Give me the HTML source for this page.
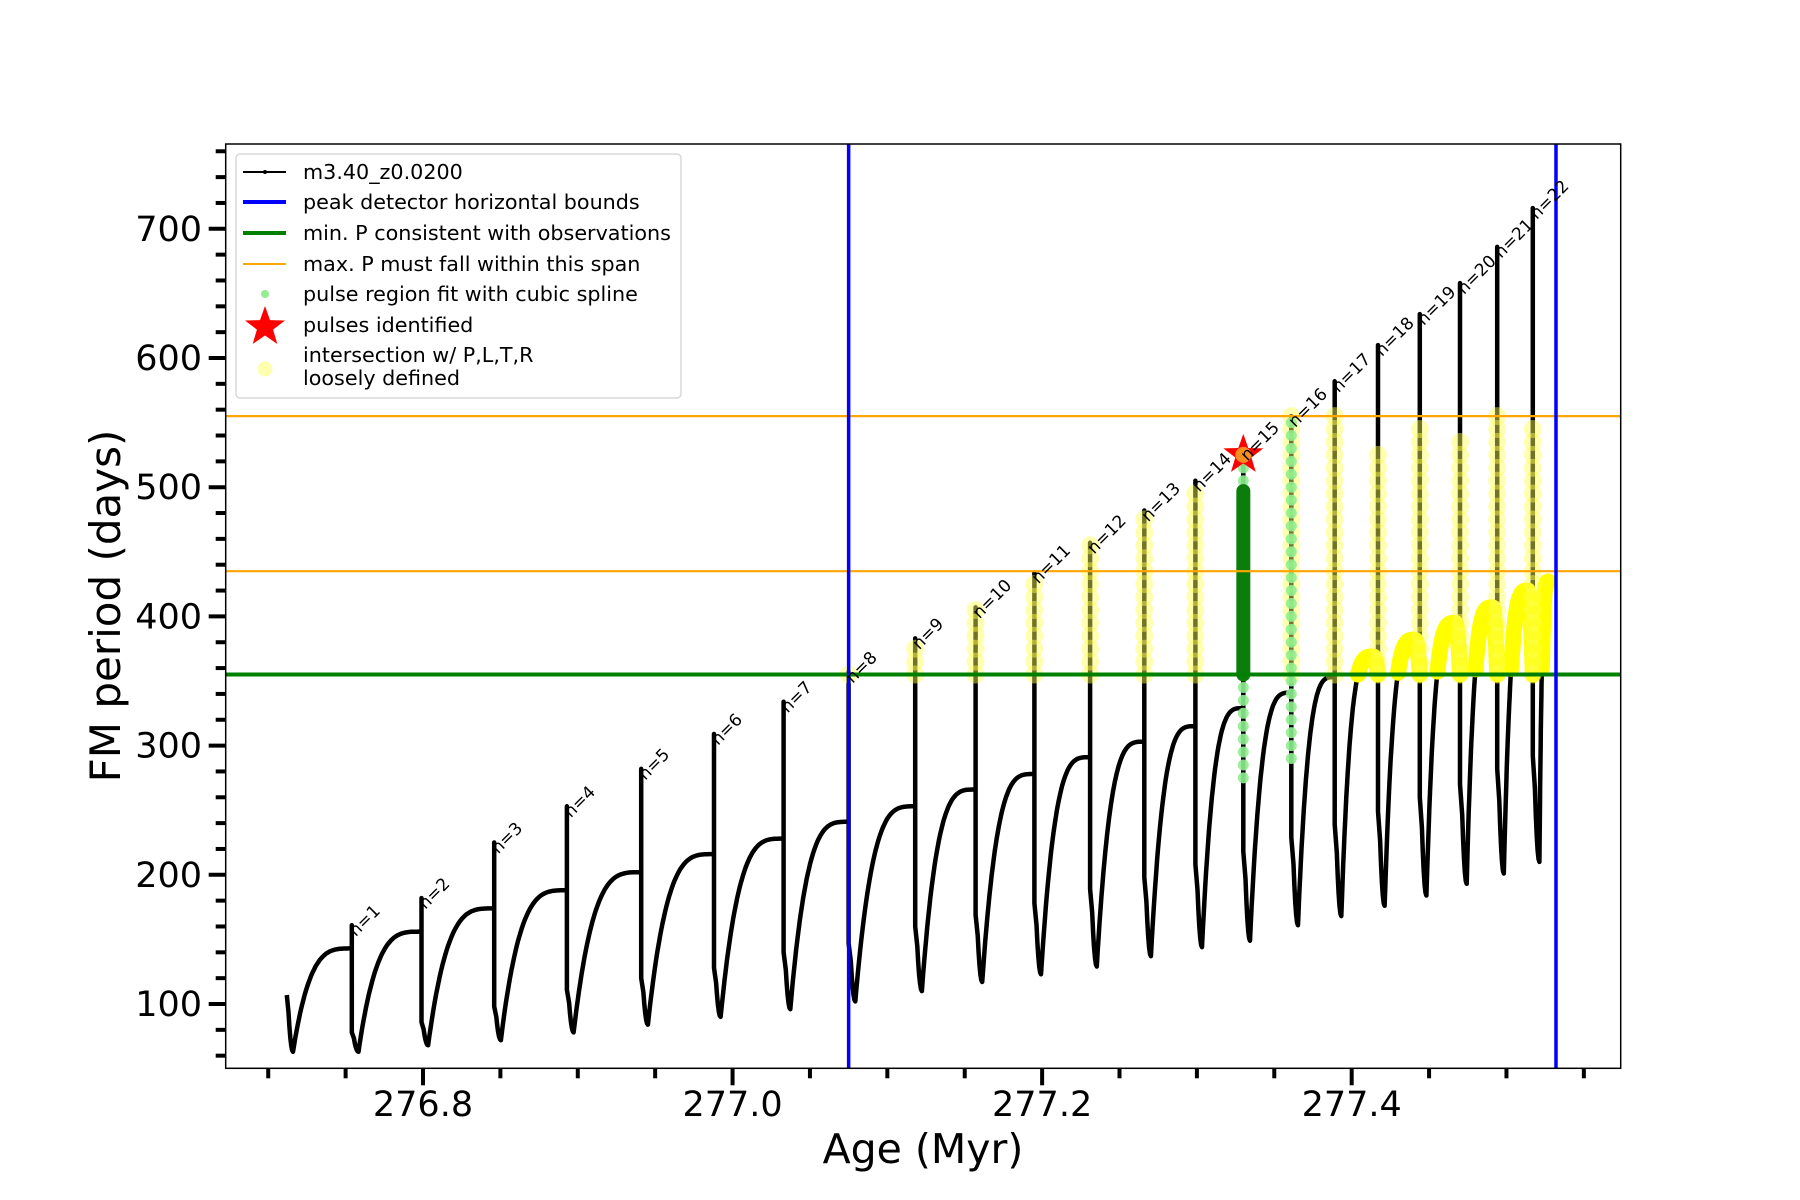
<!DOCTYPE html>
<html><head><meta charset="utf-8">
<style>
html,body{margin:0;padding:0;background:#fff;}
svg{display:block;font-family:"DejaVu Sans","Liberation Sans",sans-serif;}
</style></head>
<body>
<svg id="chart" width="1800" height="1200" viewBox="0 0 1800 1200" xmlns="http://www.w3.org/2000/svg">
<g id="plot"></g>
</svg>
<script>
// ---- data ----
const pulseAges = [276.754,276.799,276.846,276.893,276.941,276.988,277.033,277.075,277.118,277.157,277.195,277.231,277.266,277.299,277.330,277.361,277.389,277.417,277.444,277.470,277.494,277.517];
const preMax    = [143,156,174,188,202,216,228,241,253,266,278,291,303,315,329,341,353,355,355,355,355,355];
const cycleTop  = [143,156,174,188,202,216,228,241,253,266,278,291,303,315,329,341,353,369,382,395,407,420,427];
const spikePeak = [161,182,225,253,282,309,334,357,383,407,434,457,482,505,529,555,582,610,634,658,686,716];
const dipLow    = [78,86,98,111,120,128,140,147,160,169,178,189,198,208,218,229,239,249,260,270,282,292];
const minAfter  = [63,63,68,72,78,84,90,96,102,110,117,123,129,137,144,149,161,168,176,184,193,201,210];
const startAge = 276.712, startP = 107, endAge = 277.527;
const blueBounds = [277.075, 277.532];
const minP = 355;
const maxSpan = [435, 555];
const yellowTops = [0,0,0,0,0,0,0,357,381,405,432,455,480,503,0,555,555,527,545,540,555,545];
const lightGreenRanges = [[14,275,520],[15,290,555]];
const darkGreenRange = [14,355,497];
const starAge = 277.330, starP = 525;
const xTickLabels = ["276.8","277.0","277.2","277.4"];
const xTickVals = [276.8,277.0,277.2,277.4];
const yTickVals = [100,200,300,400,500,600,700];

// ---- scales ----
const X0=225.7, X1=1620.7, Y0=144, Y1=1068.3;
function x(a){return 423+(a-276.8)*1547.8;}
function y(v){return 1004-(v-100)*1.292;}
const NS="http://www.w3.org/2000/svg";
const plot=document.getElementById('plot');
function mk(tag,attrs,parent){const e=document.createElementNS(NS,tag);for(const k in attrs)e.setAttribute(k,attrs[k]);(parent||plot).appendChild(e);return e;}

const defs=mk('defs',{});
const cp=mk('clipPath',{id:'clip'},defs);
mk('rect',{x:X0,y:Y0,width:X1-X0,height:Y1-Y0},cp);
const g=mk('g',{'clip-path':'url(#clip)'});



// black curve
let pts=[[x(startAge),y(startP)]];
function seg(i,tStart,dip){
  const m=minAfter[i];
  const tEnd = i<pulseAges.length? pulseAges[i] : endAge;
  const T=cycleTop[i];
  const E = i<pulseAges.length? preMax[i] : T;
  const tt = (T>E+1)? tEnd-0.003 : tEnd;
  const out=[];
  // rounded descent from dip to minimum
  const tMin=tStart+0.0035;
  for(let k=1;k<=6;k++){const s=k/6;out.push([tStart+(tMin-tStart)*s,dip-(dip-m)*(1-Math.pow(1-s,2))]);}
  const N=50;
  for(let k=1;k<=N;k++){const s=k/N;const t=tMin+(tt-tMin)*s;out.push([t,m+(T-m)*(1-Math.pow(1-s,3.6))]);}
  if(tt<tEnd){for(let k=1;k<=8;k++){const s=k/8;out.push([tt+(tEnd-tt)*s,T-(T-E)*s*s]);}}
  return out;
}
const segs=[];
let s0=seg(0,startAge+0.0005,startP);
segs.push(s0);
s0.forEach(p=>pts.push([x(p[0]),y(p[1])]));
for(let i=0;i<pulseAges.length;i++){
  const a=pulseAges[i];
  pts.push([x(a),y(spikePeak[i])]);
  pts.push([x(a),y(dipLow[i])]);
  const sg=seg(i+1,a+0.0008,dipLow[i]);
  segs.push(sg);
  sg.forEach(p=>pts.push([x(p[0]),y(p[1])]));
}
const curve=mk('polyline',{points:pts.map(p=>p[0].toFixed(1)+','+p[1].toFixed(1)).join(' '),fill:'none',stroke:'#000','stroke-width':4.5,'stroke-linejoin':'round'},g);



// yellow loops (segments above minP)
for(let i=17;i<segs.length;i++){
  const p=segs[i].filter(q=>q[1]>=minP-1);
  if(p.length<2)continue;
  const pl=mk('polyline',{points:p.map(q=>x(q[0]).toFixed(1)+','+y(Math.max(q[1],minP)).toFixed(1)).join(' '),fill:'none',stroke:'#ffff00','stroke-width':16,'stroke-linecap':'round','stroke-linejoin':'round'},g);
  
  
}
// pale yellow circles on spikes
for(let i=0;i<pulseAges.length;i++){
  const top=yellowTops[i]; if(!top)continue;
  for(let v=minP; v<=top; v+=10){
    const c=mk('circle',{cx:x(pulseAges[i]),cy:y(v),r:9,fill:'#ffff55','fill-opacity':0.45},g);
    
    
  }
}
// light green dots
lightGreenRanges.forEach(r=>{
  for(let v=r[1];v<=r[2];v+=10){
    const c=mk('circle',{cx:x(pulseAges[r[0]]),cy:y(v),r:5.5,fill:'#90ee90','fill-opacity':0.9},g);
    
    
  }
});
// dark green bar
const dg=mk('line',{x1:x(pulseAges[darkGreenRange[0]]),x2:x(pulseAges[darkGreenRange[0]]),y1:y(darkGreenRange[1]),y2:y(darkGreenRange[2]),stroke:'#0a7d0a','stroke-width':14,'stroke-linecap':'round'},g);



// reference lines
maxSpan.forEach(v=>{const l=mk('line',{x1:X0,x2:X1,y1:y(v),y2:y(v),stroke:'#ffa500','stroke-width':2.2},g);
  });
const gl=mk('line',{x1:X0,x2:X1,y1:y(minP),y2:y(minP),stroke:'#008000','stroke-width':4},g);

blueBounds.forEach(a=>{const l=mk('line',{x1:x(a),x2:x(a),y1:Y0,y2:Y1,stroke:'#0000ff','stroke-width':3.5},g);
  });

// star
function starPts(cx,cy,R,r){let s=[];for(let k=0;k<10;k++){const ang=-Math.PI/2+k*Math.PI/5;const rr=k%2?r:R;s.push((cx+rr*Math.cos(ang)).toFixed(1)+','+(cy+rr*Math.sin(ang)).toFixed(1));}return s.join(' ');}
const st=mk('polygon',{points:starPts(x(starAge),y(starP),21,8.5),fill:'#ff0000'},g);

const sc=mk('circle',{cx:x(starAge),cy:y(starP),r:8,fill:'#f5a623','fill-opacity':0.85},g);


// n labels
for(let i=0;i<pulseAges.length;i++){
  const px=x(pulseAges[i])+4, py=y(spikePeak[i])+12;
  const t=mk('text',{x:px,y:py,'font-size':17,fill:'#000',transform:`rotate(-45 ${px} ${py})`});
  t.textContent='n='+(i+1);
  
  
}

// axes frame
const fr=mk('rect',{x:X0,y:Y0,width:X1-X0,height:Y1-Y0,fill:'none',stroke:'#000','stroke-width':1.5});


// x ticks
for(let k=0;k<=17;k++){const a=276.70+k*0.05;const major=xTickVals.some(v=>Math.abs(v-a)<1e-6);
  const l=mk('line',{x1:x(a),x2:x(a),y1:Y1,y2:Y1+(major?17:10),stroke:'#000','stroke-width':4});
  }
xTickVals.forEach((v,i)=>{const t=mk('text',{x:x(v),y:1116,'font-size':35,'text-anchor':'middle',fill:'#000'});t.textContent=xTickLabels[i];
  });
// y ticks
for(let v=60;v<=760;v+=20){const major=v%100===0;
  const l=mk('line',{x1:X0,x2:X0-(major?17:10),y1:y(v),y2:y(v),stroke:'#000','stroke-width':4});
  }
yTickVals.forEach(v=>{const t=mk('text',{x:202,y:y(v)+12,'font-size':35,'text-anchor':'end',fill:'#000'});t.textContent=String(v);
  });
// axis titles
const xt=mk('text',{x:923,y:1163,'font-size':41,'text-anchor':'middle',fill:'#000'});xt.textContent='Age (Myr)';

const yt=mk('text',{x:120,y:606,'font-size':42,'text-anchor':'middle',fill:'#000',transform:'rotate(-90 120 606)'});yt.textContent='FM period (days)';


// legend
const lg=mk('g',{});

mk('rect',{x:236,y:154,width:445,height:244,rx:4,fill:'#fff','fill-opacity':0.85,stroke:'#d8d8d8','stroke-width':1.5},lg);
const rows=[["m3.40_z0.0200",172],["peak detector horizontal bounds",202],["min. P consistent with observations",233],["max. P must fall within this span",264],["pulse region fit with cubic spline",294],["pulses identified",325],["intersection w/ P,L,T,R",355],["loosely defined",378]];
rows.forEach(r=>{const t=mk('text',{x:303,y:r[1]+7,'font-size':20.7,fill:'#000'},lg);t.textContent=r[0];
  });
mk('line',{x1:243,x2:286,y1:172,y2:172,stroke:'#000','stroke-width':2},lg);
mk('circle',{cx:265,cy:172,r:2,fill:'#000'},lg);
mk('line',{x1:243,x2:286,y1:202,y2:202,stroke:'#0000ff','stroke-width':4},lg);
mk('line',{x1:243,x2:286,y1:233,y2:233,stroke:'#008000','stroke-width':4},lg);
mk('line',{x1:243,x2:286,y1:264,y2:264,stroke:'#ffa500','stroke-width':2},lg);
mk('circle',{cx:265,cy:294,r:4,fill:'#90ee90'},lg);
mk('polygon',{points:starPts(265,327,21,8.5),fill:'#ff0000'},lg);
mk('circle',{cx:265,cy:369,r:7.5,fill:'#ffffb0'},lg);
</script>
</body></html>
